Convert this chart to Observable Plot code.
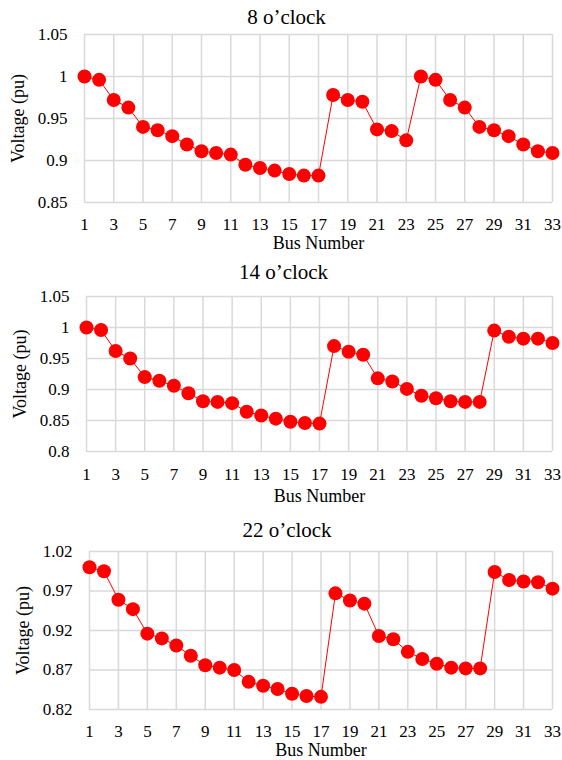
<!DOCTYPE html>
<html>
<head>
<meta charset="utf-8">
<script src="https://cdn.jsdelivr.net/npm/d3@7"></script>
<script src="https://cdn.jsdelivr.net/npm/@observablehq/plot@0.6"></script>
<style>
  html, body { margin: 0; padding: 0; background: #fff; }
  #wrap { width: 562px; height: 760px; position: relative; }
  #wrap svg { display: block; }
  #wrap svg, #wrap svg text { font-family: "Liberation Serif", "DejaVu Serif", serif !important; }
</style>
</head>
<body>
<div id="wrap"></div>
<script>
const buses = d3.range(1, 34);
const xTicks = [1, 3, 5, 7, 9, 11, 13, 15, 17, 19, 21, 23, 25, 27, 29, 31, 33];

const titles = ["8 o\u2019clock", "14 o\u2019clock", "22 o\u2019clock"];

const v8 = [1.000, 0.996, 0.972, 0.963, 0.940, 0.936, 0.929, 0.919, 0.911, 0.909, 0.907,
            0.895, 0.891, 0.888, 0.884, 0.882, 0.882, 0.978, 0.972, 0.970, 0.937, 0.935,
            0.924, 1.000, 0.996, 0.972, 0.963, 0.940, 0.936, 0.929, 0.919, 0.911, 0.909];
const v14 = [1.000, 0.996, 0.962, 0.950, 0.920, 0.914, 0.906, 0.894, 0.881, 0.880, 0.878,
             0.864, 0.858, 0.853, 0.848, 0.846, 0.845, 0.970, 0.961, 0.956, 0.918, 0.913,
             0.901, 0.890, 0.886, 0.881, 0.880, 0.880, 0.995, 0.985, 0.982, 0.982, 0.975];
const v22 = [1.000, 0.995, 0.959, 0.947, 0.916, 0.910, 0.901, 0.888, 0.876, 0.873, 0.870,
             0.855, 0.850, 0.846, 0.840, 0.837, 0.836, 0.967, 0.958, 0.954, 0.913, 0.909,
             0.893, 0.884, 0.878, 0.873, 0.872, 0.872, 0.994, 0.984, 0.982, 0.981, 0.973];

const yTicks8 = [0.85, 0.9, 0.95, 1, 1.05];
const yLabels8 = ["0.85", "0.9", "0.95", "1", "1.05"];
const yTicks14 = [0.8, 0.85, 0.9, 0.95, 1, 1.05];
const yLabels14 = ["0.8", "0.85", "0.9", "0.95", "1", "1.05"];
const yTicks22 = [0.82, 0.87, 0.92, 0.97, 1.02];
const yLabels22 = ["0.82", "0.87", "0.92", "0.97", "1.02"];

const xLabel = "Bus Number";
const yLabel = "Voltage (pu)";

const panels = [
  {title: titles[0], values: v8, yTicks: yTicks8, yLabels: yLabels8,
   height: 253, mt: 34, mb: 51, ml: 84, titleDy: -17, titleDx: -32, xlabDy: 41, tp: 15},
  {title: titles[1], values: v14, yTicks: yTicks14, yLabels: yLabels14,
   height: 254, mt: 43, mb: 56, ml: 86, titleDy: -24, titleDx: -36, xlabDy: 45, tp: 16},
  {title: titles[2], values: v22, yTicks: yTicks22, yLabels: yLabels22,
   height: 253, mt: 44, mb: 51, ml: 89, titleDy: -21, titleDx: -34, xlabDy: 41, tp: 15}
];

const grid = "#d9d9d9";
const red = "#ff0000";
const font = "Liberation Serif";

const wrap = document.getElementById("wrap");
for (const p of panels) {
  const data = buses.map((b, i) => ({bus: b, v: p.values[i]}));
  const yDom = [p.yTicks[0], p.yTicks[p.yTicks.length - 1]];
  const svg = Plot.plot({
    width: 562,
    height: p.height,
    marginTop: p.mt,
    marginBottom: p.mb,
    marginLeft: p.ml,
    marginRight: 10,
    style: {fontFamily: font, fontSize: "17px", color: "#000", background: "#fff", overflow: "visible"},
    x: {domain: [1, 33], axis: null},
    y: {domain: yDom, axis: null},
    marks: [
      Plot.gridX(xTicks, {stroke: grid, strokeOpacity: 1, strokeWidth: 1.5}),
      Plot.gridY(p.yTicks, {stroke: grid, strokeOpacity: 1, strokeWidth: 1.5}),
      Plot.axisX(xTicks, {tickSize: 0, tickPadding: p.tp, fontSize: 17, label: null, fill: "#000"}),
      Plot.axisY(p.yTicks, {tickSize: 0, tickPadding: 17, fontSize: 17, label: null, fill: "#000",
        tickFormat: (d) => p.yLabels[p.yTicks.indexOf(d)]}),
      Plot.line(data, {x: "bus", y: "v", stroke: red, strokeWidth: 1}),
      Plot.dot(data, {x: "bus", y: "v", r: 7, fill: red, stroke: "none"}),
      Plot.text([p.title], {frameAnchor: "top", dy: p.titleDy, dx: p.titleDx, lineAnchor: "middle",
        textAnchor: "middle", fontSize: 21, fill: "#000"}),
      Plot.text([xLabel], {frameAnchor: "bottom", dy: p.xlabDy, lineAnchor: "middle",
        textAnchor: "middle", fontSize: 18, fill: "#000"}),
      Plot.text([yLabel], {frameAnchor: "left", dx: -66, rotate: -90, lineAnchor: "middle",
        textAnchor: "middle", fontSize: 18, fill: "#000"})
    ]
  });
  wrap.appendChild(svg);
}
</script>
</body>
</html>
